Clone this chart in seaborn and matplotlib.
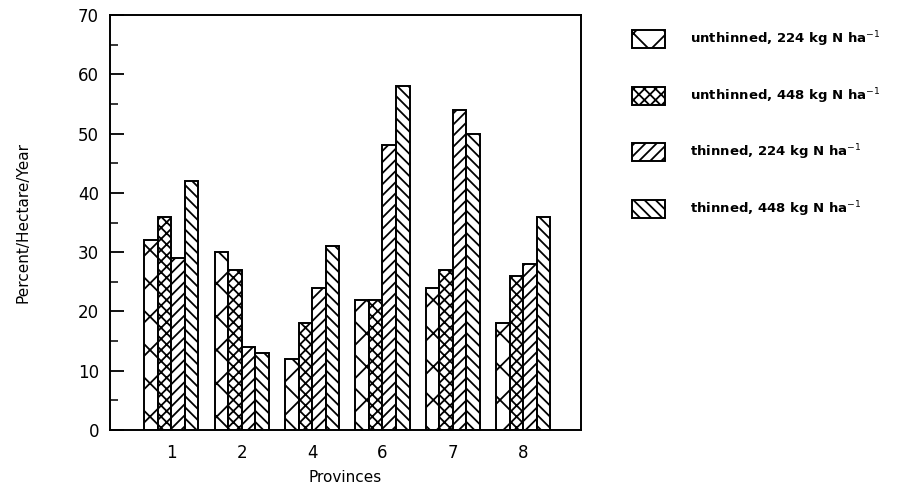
import pandas as pd
import seaborn as sns
import matplotlib.pyplot as plt
from matplotlib.patches import Patch
from matplotlib.ticker import MultipleLocator

provinces = ["1", "2", "4", "6", "7", "8"]
treatments = [
    "unthinned, 224 kg N ha$^{-1}$",
    "unthinned, 448 kg N ha$^{-1}$",
    "thinned, 224 kg N ha$^{-1}$",
    "thinned, 448 kg N ha$^{-1}$",
]
unthinned_224 = [32, 30, 12, 22, 24, 18]
unthinned_448 = [36, 27, 18, 22, 27, 26]
thinned_224 = [29, 14, 24, 48, 54, 28]
thinned_448 = [42, 13, 31, 58, 50, 36]
hatches = ["x", "xxx", "///", "\\\\\\"]

series = [unthinned_224, unthinned_448, thinned_224, thinned_448]
rows = []
for t, vals in zip(treatments, series):
    for p, v in zip(provinces, vals):
        rows.append({"Province": p, "Treatment": t, "Value": v})
df = pd.DataFrame(rows)

sns.set_style("ticks")
plt.rcParams["font.family"] = ["DejaVu Sans"]
plt.rcParams["hatch.linewidth"] = 1.3
plt.rcParams["text.color"] = "black"
plt.rcParams["axes.labelcolor"] = "black"
plt.rcParams["xtick.color"] = "black"
plt.rcParams["ytick.color"] = "black"

fig = plt.figure(figsize=(9.04, 4.95), dpi=100)
ax = fig.add_axes([0.1217, 0.1313, 0.521, 0.8384])

sns.barplot(data=df, x="Province", y="Value", hue="Treatment",
            order=provinces, hue_order=treatments,
            palette=["white"] * 4, edgecolor="black", linewidth=1.4,
            width=0.77, saturation=1, ax=ax, legend=False)

for cont, h in zip(ax.containers, hatches):
    for bar in cont:
        bar.set_hatch(h)

ax.set_ylim(0, 70)
ax.set_xlim(-0.87, 5.82)
ax.yaxis.set_major_locator(MultipleLocator(10))
ax.yaxis.set_minor_locator(MultipleLocator(5))
ax.tick_params(axis="y", which="major", direction="in", length=10, width=1.3, labelsize=12, pad=8)
ax.tick_params(axis="y", which="minor", direction="in", length=6, width=1.1)
ax.tick_params(axis="x", length=0, labelsize=12, pad=10)
for s in ax.spines.values():
    s.set_visible(True)
    s.set_linewidth(1.4)
    s.set_color("black")

ax.set_xlabel("Provinces", fontsize=11, labelpad=6)
ax.set_ylabel("Percent/Hectare/Year", fontsize=11, labelpad=34)

handles = [Patch(facecolor="white", edgecolor="black", hatch=h, linewidth=1.4) for h in hatches]
fig.legend(handles, treatments, loc="upper left", bbox_to_anchor=(0.699, 0.94),
           frameon=False, prop={"weight": "bold", "size": 9.5},
           handlelength=2.5, handleheight=1.7, labelspacing=2.8,
           handletextpad=1.9, borderpad=0, borderaxespad=0)

fig.savefig("out.png", dpi=100)
